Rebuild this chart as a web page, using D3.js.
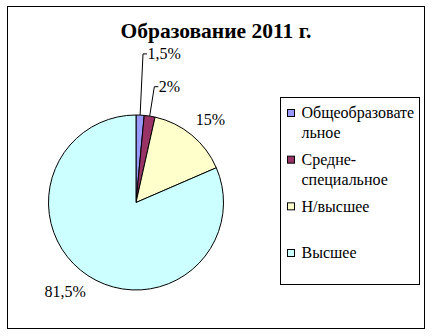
<!DOCTYPE html>
<html lang="ru">
<head>
    <meta charset="UTF-8">
    <title>Образование 2011 г.</title>
    <script src="https://cdnjs.cloudflare.com/ajax/libs/d3/7.8.5/d3.js"></script>
    <style>
        body{
            margin:0;
            background:#fff;
        }
        svg{
            display:block;
        }
        svg text{
            font-family:"Liberation Serif", "Times New Roman", serif;
        }
    </style>
</head>
<body>
    <svg width="432" height="336"></svg>
    <script>

// data
const categories = ["Общеобразовательное", "Средне-специальное", "Н/высшее", "Высшее"];
const values = [1.5, 2, 15, 81.5];
const valueLabels = ["1,5%", "2%", "15%", "81,5%"];
const colors = ["#9999FF", "#993366", "#FFFFCC", "#CCFFFF"];
// legend lines, wrapped like the original
const legendLines = [["Общеобразовате", "льное"], ["Средне-", "специальное"], ["Н/высшее"], ["Высшее"]];

const svg = d3.select("svg");

// chart frame
svg.append("rect")
    .attr("x", 7.5).attr("y", 6.5)
    .attr("width", 417).attr("height", 322)
    .attr("fill", "white")
    .attr("stroke", "black");

svg.append("text")
    .attr("x", 216).attr("y", 38)
    .attr("text-anchor", "middle")
    .attr("font-size", "21.5px")
    .attr("font-weight", "bold")
    .text("Образование 2011 г.");

const cx = 136, cy = 202.5, R = 87.5;

const pie = d3.pie().sort(null).value(d => d)(values);
const arc = d3.arc().innerRadius(0).outerRadius(R);

const g = svg.append("g").attr("transform", `translate(${cx},${cy})`);

g.selectAll("path")
    .data(pie)
    .enter()
    .append("path")
    .attr("d", arc)
    .attr("fill", (d, i) => colors[i])
    .attr("stroke", "black")
    .attr("stroke-width", 1)
    .attr("stroke-linejoin", "round");

// small slices: label pulled out on a leader line; others: box just outside the rim
const leaderRadius = [1.7, 1.34, 0, 0];
const gap = 10;

pie.forEach((d, i) => {
    const a = (d.startAngle + d.endAngle) / 2;
    const px = Math.sin(a), py = -Math.cos(a);
    const t = g.append("text")
        .attr("font-size", "16px")
        .attr("dy", "0.33em")
        .text(valueLabels[i]);
    if (leaderRadius[i]) {
        const lx = px * R * leaderRadius[i], ly = py * R * leaderRadius[i];
        g.append("path")
            .attr("d", `M${px * R},${py * R}L${lx},${ly}L${lx + 4},${ly}`)
            .attr("fill", "none")
            .attr("stroke", "black");
        t.attr("x", lx + 4.5).attr("y", ly);
    } else {
        const b = t.node().getBBox();
        const ox = px * (R + gap) + Math.sign(px) * b.width * 0.42;
        const oy = py * (R + gap) + Math.sign(py) * 8;
        t.attr("text-anchor", "middle").attr("x", ox).attr("y", oy);
    }
});

// legend
const legend = svg.append("g");
legend.append("rect")
    .attr("x", 280.5).attr("y", 97.5)
    .attr("width", 139).attr("height", 187)
    .attr("fill", "white")
    .attr("stroke", "black");

const itemY = d3.scalePoint().domain(categories).range([113, 253]);

categories.forEach((c, i) => {
    const y = itemY(c);
    legend.append("rect")
        .attr("x", 287.5).attr("y", y - 3.5)
        .attr("width", 7).attr("height", 7)
        .attr("fill", colors[i])
        .attr("stroke", "black");
    legendLines[i].forEach((line, j) => {
        legend.append("text")
            .attr("x", 301.5).attr("y", y + j * 20)
            .attr("dy", "0.33em")
            .attr("font-size", "16px")
            .text(line);
    });
});

    </script>
</body>
</html>
